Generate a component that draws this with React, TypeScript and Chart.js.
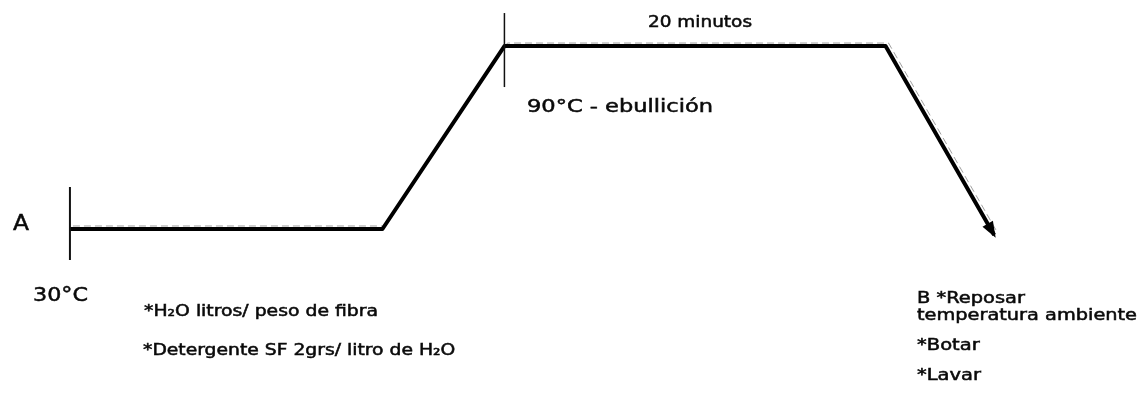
import React, { useEffect, useRef } from "react";
import { Chart, registerables } from "chart.js";

Chart.register(...registerables);

// Process profile: time (min) vs temperature (°C)
const timeMin = [0, 16.4, 22.8, 42.8, 48.5];
const tempC = [30, 30, 90, 90, 28];

const stageLabels = {
  start: "A",
  startTemp: "30°C",
  boilTemp: "90°C - ebullición",
  hold: "20 minutos",
};
const notesA = ["*H₂O litros/ peso de fibra", "*Detergente SF 2grs/ litro de H₂O"];
const notesB = ["B *Reposar", "temperatura ambiente", "*Botar", "*Lavar"];

const FONT = "'DejaVu Sans', sans-serif";

function drawText(
  ctx: CanvasRenderingContext2D,
  text: string,
  x: number,
  baseline: number,
  size: number,
  sx: number,
  weight = "normal"
) {
  ctx.save();
  ctx.font = `${weight} ${size}px ${FONT}`;
  ctx.textBaseline = "alphabetic";
  ctx.textAlign = "left";
  ctx.translate(x, baseline);
  ctx.scale(sx, 1);
  ctx.fillText(text, 0, 0);
  ctx.lineWidth = 0.5;
  ctx.strokeStyle = ctx.fillStyle as string;
  ctx.strokeText(text, 0, 0);
  ctx.restore();
}

function fitScale(ctx: CanvasRenderingContext2D, text: string, size: number, width: number, weight = "normal") {
  ctx.save();
  ctx.font = `${weight} ${size}px ${FONT}`;
  const w = ctx.measureText(text).width;
  ctx.restore();
  return width / w;
}

const decorPlugin = {
  id: "decor",
  beforeDatasetsDraw(chart: any) {
    const ctx: CanvasRenderingContext2D = chart.ctx;
    const xs = chart.scales.x;
    const ys = chart.scales.y;
    // faint scan shadow of the profile line
    ctx.save();
    ctx.strokeStyle = "rgba(120,120,120,0.7)";
    ctx.lineWidth = 1;
    ctx.setLineDash([7, 4]);
    ctx.beginPath();
    timeMin.forEach((t, i) => {
      const px = xs.getPixelForValue(t) + 3;
      const py = ys.getPixelForValue(tempC[i]) - 3;
      if (i === 0) ctx.moveTo(px, py);
      else ctx.lineTo(px, py);
    });
    ctx.stroke();
    ctx.restore();
  },
  afterDatasetsDraw(chart: any) {
    const ctx: CanvasRenderingContext2D = chart.ctx;
    const xs = chart.scales.x;
    const ys = chart.scales.y;
    const px = (i: number) => xs.getPixelForValue(timeMin[i]);
    const py = (i: number) => ys.getPixelForValue(tempC[i]);

    ctx.save();
    ctx.strokeStyle = "#111";
    ctx.lineWidth = 2;
    // vertical marker at start (A)
    ctx.beginPath();
    ctx.moveTo(px(0), py(0) - 42);
    ctx.lineTo(px(0), py(0) + 31);
    ctx.stroke();
    // vertical marker at start of boil hold
    ctx.lineWidth = 1.5;
    ctx.beginPath();
    ctx.moveTo(px(2), py(2) - 33);
    ctx.lineTo(px(2), py(2) + 41);
    ctx.stroke();

    // arrow head at the end
    const n = timeMin.length - 1;
    const x1 = px(n - 1), y1 = py(n - 1), x2 = px(n), y2 = py(n);
    const ang = Math.atan2(y2 - y1, x2 - x1);
    const len = 13, half = 6;
    ctx.fillStyle = "#000";
    ctx.beginPath();
    ctx.moveTo(x2 + Math.cos(ang) * 3, y2 + Math.sin(ang) * 3);
    ctx.lineTo(
      x2 - Math.cos(ang) * len + Math.cos(ang + Math.PI / 2) * half,
      y2 - Math.sin(ang) * len + Math.sin(ang + Math.PI / 2) * half
    );
    ctx.lineTo(
      x2 - Math.cos(ang) * len - Math.cos(ang + Math.PI / 2) * half,
      y2 - Math.sin(ang) * len - Math.sin(ang + Math.PI / 2) * half
    );
    ctx.closePath();
    ctx.fill();

    // texts
    ctx.fillStyle = "#0a0a0a";
    drawText(ctx, stageLabels.start, 13, 230, 22, fitScale(ctx, stageLabels.start, 22, 16));
    drawText(ctx, stageLabels.startTemp, 33, 301, 20, fitScale(ctx, stageLabels.startTemp, 20, 55));
    drawText(ctx, stageLabels.hold, 648, 27, 15, fitScale(ctx, stageLabels.hold, 15, 104));
    drawText(ctx, stageLabels.boilTemp, 527, 112, 17, fitScale(ctx, stageLabels.boilTemp, 17, 186));
    drawText(ctx, notesA[0], 144, 316, 15, fitScale(ctx, notesA[0], 15, 234));
    drawText(ctx, notesA[1], 143, 355, 15, 1.25);
    drawText(ctx, notesB[0], 917, 303, 15, fitScale(ctx, notesB[0], 15, 108));
    drawText(ctx, notesB[1], 917, 320, 15, fitScale(ctx, notesB[1], 15, 220));
    drawText(ctx, notesB[2], 917, 350, 15, 1.3);
    drawText(ctx, notesB[3], 917, 380, 15, 1.3);
    ctx.restore();
  },
};

export default function App() {
  const ref = useRef<HTMLCanvasElement>(null);
  useEffect(() => {
    if (!ref.current) return;
    const chart = new Chart(ref.current, {
      type: "line",
      data: {
        datasets: [
          {
            data: timeMin.map((t, i) => ({ x: t, y: tempC[i] })),
            borderColor: "#000",
            borderWidth: 4,
            pointRadius: 0,
            tension: 0,
            borderJoinStyle: "round",
            borderCapStyle: "butt",
            fill: false,
          },
        ],
      },
      options: {
        animation: false,
        responsive: false,
        maintainAspectRatio: false,
        layout: { padding: 0, autoPadding: false } as any,
        plugins: {
          legend: { display: false },
          tooltip: { enabled: false },
          title: { display: false },
        },
        scales: {
          x: { type: "linear", min: -3.67, max: 56.1, display: false },
          y: { type: "linear", min: -31, max: 105.1, display: false },
        },
      },
      plugins: [decorPlugin],
    });
    return () => chart.destroy();
  }, []);
  return (
    <div style={{ position: "fixed", left: 0, top: 0, width: 1139, height: 415, background: "#fff" }}>
      <canvas ref={ref} width={1139} height={415} style={{ display: "block" }} />
    </div>
  );
}
